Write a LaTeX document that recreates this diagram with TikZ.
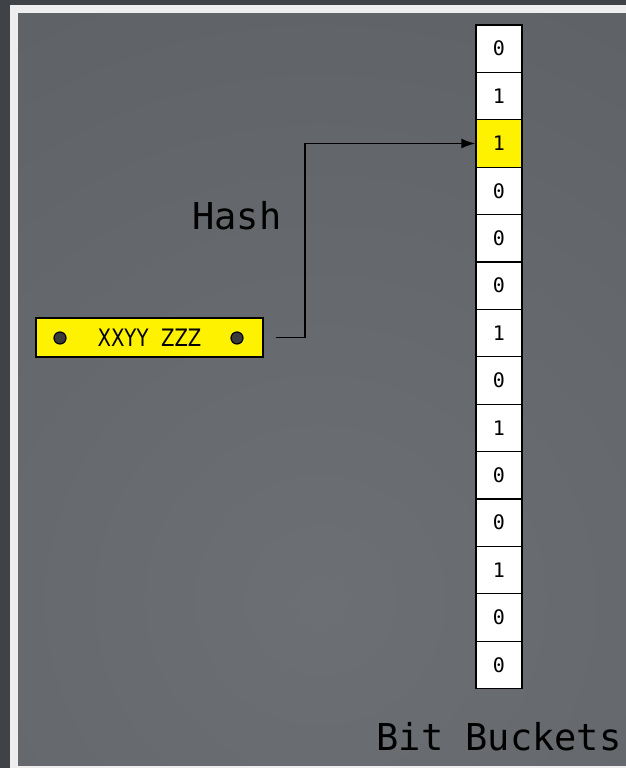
\documentclass[tikz,border=0pt]{standalone}
\usepackage{fontspec}
\setmonofont{DejaVu Sans Mono}
\newfontfamily\keyfont[FakeStretch=0.82]{DejaVu Sans}
\usetikzlibrary{arrows.meta, positioning}
\definecolor{frame}{HTML}{3F4347}
\definecolor{rim}{HTML}{EEEEEE}
\definecolor{panelin}{HTML}{6C7074}
\definecolor{panelout}{HTML}{565A5E}
\definecolor{dotgray}{HTML}{3A3A3A}

\tikzset{
  bucket/.style={draw, line width=1.3pt, minimum width=46pt, minimum height=47.4pt,
                 inner sep=0pt, font=\ttfamily\fontsize{20}{22}\selectfont},
  keybox/.style={draw, line width=1.6pt, fill=yellow, minimum width=227pt,
                 minimum height=39pt, inner sep=0pt, font=\keyfont\fontsize{24}{26}\selectfont},
  keydot/.style={draw, line width=1.2pt, fill=dotgray},
  conn/.style={draw, line width=1.6pt, -{Latex[length=14pt,width=10pt]}},
  bigtext/.style={font=\ttfamily\fontsize{37}{40}\selectfont, inner sep=0pt, anchor=base}
}

\begin{document}
\begin{tikzpicture}[x=1pt, y=-1pt]
  \useasboundingbox (0,0) rectangle (626,768);
  % frame and panel
  \fill[frame] (0,0) rectangle (626,768);
  \fill[rim] (10,5) rectangle (626,768);
  \begin{scope}
    \clip (18,14) rectangle (626,765);
    \shade[inner color=panelin, outer color=panelout] (320,600) circle (1100);
  \end{scope}

  % bit buckets
  \foreach \b/\c [count=\i] in {0/white, 1/white, 1/yellow, 0/white, 0/white,
                                0/white, 1/white, 0/white, 1/white, 0/white,
                                0/white, 1/white, 0/white, 0/white}
    \node[bucket, fill=\c] (b\i) at (499, {25+47.4*(\i-0.5)}) {\b};
  \node[bigtext] (buckets) at (499,750) {Bit Buckets};

  % key
  \node[keybox] (key) at (149.5,337.5) {XXYY\ \ ZZZ};
  \draw[keydot] (60,338) circle (6);
  \draw[keydot] (237,338) circle (6);

  % hash
  \node[bigtext] (hash) at (237,229) {Hash};
  \draw[conn] ([xshift=12pt]key.east) -- ++(29,0) |- (b3.west);
\end{tikzpicture}
\end{document}
